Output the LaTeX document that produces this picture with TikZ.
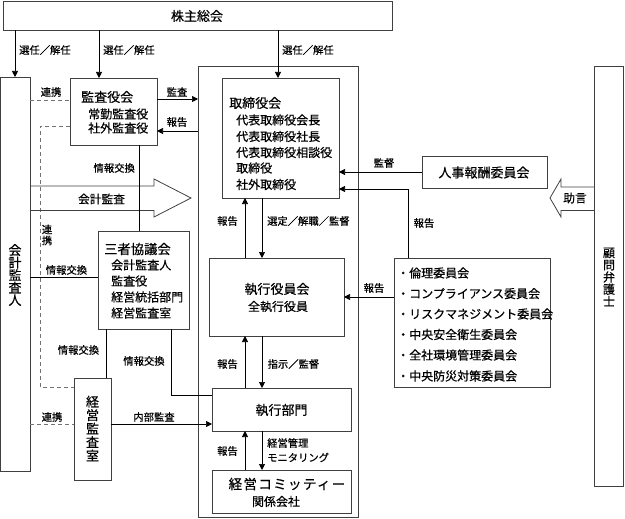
\documentclass[tikz,border=0pt]{standalone}
\usepackage{fontspec}
\setmainfont{Noto Sans CJK JP}[FakeBold=0.5]
\usetikzlibrary{arrows.meta,calc}
\newcommand\mkbox[5]{\node[box, minimum width={#4pt-#2pt}, minimum height={#5pt-#3pt}] (#1) at (#2,#3) {};}
\begin{document}
\begin{tikzpicture}[x=1pt,y=-1pt,
  box/.style={draw=black!75, line width=0.9pt, inner sep=0pt, outer sep=0pt, anchor=north west, fill=none},
  lbl/.style={font=\fontsize{10.3}{12}\selectfont, inner sep=0pt},
  ttl/.style={font=\fontsize{13}{15}\selectfont, inner sep=0pt},
  subt/.style={font=\fontsize{12}{14}\selectfont, inner sep=0pt},
  vert/.style={font=\fontsize{12.5}{12.5}\selectfont, inner sep=0pt, align=center},
  con/.style={draw=black, line width=0.7pt},
  arr/.style={con, -{Triangle[length=6pt,width=6pt]}},
  dsh/.style={draw=black!55, line width=0.8pt, dash pattern=on 4pt off 3pt},
  bigarr/.style={draw=black!75, line width=0.8pt}
]
\useasboundingbox (0,0) rectangle (625,519);

% boxes
\mkbox{soukai}{3}{1}{392}{30}
\mkbox{kaikei}{0.5}{77}{30}{471}
\mkbox{kansa}{70}{78}{157}{145}
\mkbox{outer}{198}{66}{358}{517}
\mkbox{torishimari}{222}{78}{339}{198}
\mkbox{jinji}{422}{156}{547}{188}
\mkbox{sansha}{98}{231}{189}{329}
\mkbox{yakuin}{209}{258}{344}{336}
\mkbox{iinkai}{394}{258}{550}{387}
\mkbox{shikko}{212}{388}{351}{431}
\mkbox{keiei}{74}{378}{111}{480}
\mkbox{committee}{212}{470}{351}{513}
\mkbox{komon}{594}{66}{623}{486}

% box texts
\node[ttl] (t_soukai) at (197,16) {株主総会};
\node[vert, font=\fontsize{13}{12.5}\selectfont] (t_kaikei) at (15,275) {会\\計\\監\\査\\人};
\node[ttl, anchor=west] (t_kansa) at (81,97) {監査役会};
\node[subt, anchor=west] (t_kansa1) at (88,114) {常勤監査役};
\node[subt, anchor=west] (t_kansa2) at (88,128) {社外監査役};
\node[ttl, anchor=west] (t_tori) at (229,103) {取締役会};
\node[subt, anchor=west] (t_tori1) at (236,120) {代表取締役会長};
\node[subt, anchor=west] (t_tori2) at (236,136.5) {代表取締役社長};
\node[subt, anchor=west] (t_tori3) at (236,152.5) {代表取締役相談役};
\node[subt, anchor=west] (t_tori4) at (236,168) {取締役};
\node[subt, anchor=west] (t_tori5) at (236,184.5) {社外取締役};
\node[ttl] (t_jinji) at (484,172.5) {人事報酬委員会};
\node[ttl, anchor=west, font=\fontsize{13.3}{15}\selectfont] (t_sansha) at (104,249) {三者協議会};
\node[subt, anchor=west] (t_sansha1) at (111,265) {会計監査人};
\node[subt, anchor=west] (t_sansha2) at (111,281) {監査役};
\node[subt, anchor=west] (t_sansha3) at (111,297) {経営統括部門};
\node[subt, anchor=west] (t_sansha4) at (111,313) {経営監査室};
\node[ttl] (t_yakuin) at (277,289) {執行役員会};
\node[subt] (t_yakuin1) at (278,306.5) {全執行役員};
\node[ttl] (t_shikko) at (281.5,410) {執行部門};
\node[ttl, font=\fontsize{13.5}{15}\selectfont\addfontfeature{LetterSpace=10}] (t_comm) at (287,484) {経営コミッティー};
\node[subt] (t_comm1) at (276,501.5) {関係会社};
\node[vert, font=\fontsize{13}{13.5}\selectfont] (t_keiei) at (92.5,428.5) {経\\営\\監\\査\\室};
\node[vert, font=\fontsize{12}{12.2}\selectfont] (t_komon) at (609,277) {顧\\問\\弁\\護\\士};
\foreach \t/\y [count=\i] in {倫理委員会/273, コンプライアンス委員会/293.6, リスクマネジメント委員会/314, 中央安全衛生委員会/334.5, 全社環境管理委員会/355, 中央防災対策委員会/376}
  \node[subt, anchor=west] (t_iin\i) at (397,\y) {・\t};

% election arrows
\draw[arr] (15,0 |- soukai.south) -- (15,0 |- kaikei.north);
\draw[arr] (99,0 |- soukai.south) -- (99,0 |- kansa.north);
\draw[arr] (278,0 |- soukai.south) -- (278,0 |- torishimari.north);
\node[lbl, anchor=west] (l_sen1) at (19,50) {選任／解任};
\node[lbl, anchor=west] (l_sen2) at (103,50) {選任／解任};
\node[lbl, anchor=west] (l_sen3) at (282,50) {選任／解任};

% dashed links
\draw[dsh] (kaikei.east |- 0,100) -- (kansa.west |- 0,100);
\node[lbl] (l_renkei1) at (51,92) {連携};
\draw[dsh] (kansa.west |- 0,126) -- (40,126) -- (40,387) -- (keiei.west |- 0,387);
\node[lbl, align=center, font=\fontsize{10.3}{11}\selectfont] (l_renkei2) at (47,235) {連\\携};
\draw[dsh] (kaikei.east |- 0,424) -- (keiei.west |- 0,424);
\node[lbl] (l_renkei3) at (52,417) {連携};

% audit / report
\draw[arr] (kansa.east |- 0,99) -- (outer.west |- 0,99);
\node[lbl] (l_kansa) at (177,92) {監査};
\draw[arr] (outer.west |- 0,131) -- (kansa.east |- 0,131);
\node[lbl] (l_hokoku1) at (177,122) {報告};

% big arrow 会計監査
\draw[bigarr] (kaikei.east |- 0,186) -- (154,186) -- (154,179) -- (191,198) -- (154,217) -- (154,210.5) -- (kaikei.east |- 0,210.5);
\node[font=\fontsize{11.7}{13}\selectfont, inner sep=0pt] (l_kaikeikansa) at (101.5,199) {会計監査};

% information exchange lines
\draw[con] (139,0 |- kansa.south) -- (139,0 |- sansha.north);
\node[lbl, anchor=east] (l_jouhou1) at (135,168) {情報交換};
\draw[con] (kaikei.east |- 0,277) -- (sansha.west |- 0,277);
\node[lbl] (l_jouhou2) at (66.5,270) {情報交換};
\draw[con] (106,0 |- sansha.south) -- (106,0 |- keiei.north);
\node[lbl] (l_jouhou3) at (78.5,350) {情報交換};
\draw[con] (171,0 |- sansha.south) -- (171,395) -- (shikko.west |- 0,395);
\node[lbl] (l_jouhou4) at (144,361) {情報交換};

% internal audit
\draw[arr] (keiei.east |- 0,424) -- (shikko.west |- 0,424);
\node[lbl] (l_naibu) at (154,417) {内部監査};

% vertical pairs
\draw[arr] (245,0 |- yakuin.north) -- (245,0 |- torishimari.south);
\draw[arr] (262,0 |- torishimari.south) -- (262,0 |- yakuin.north);
\node[lbl] (l_h2) at (227.5,221) {報告};
\node[lbl, anchor=west] (l_sentei) at (267,221) {選定／解職／監督};
\draw[arr] (245,0 |- shikko.north) -- (245,0 |- yakuin.south);
\draw[arr] (262,0 |- yakuin.south) -- (262,0 |- shikko.north);
\node[lbl] (l_h3) at (227.5,364) {報告};
\node[lbl, anchor=west] (l_shiji) at (267.5,364) {指示／監督};
\draw[arr] (245,0 |- committee.north) -- (245,0 |- shikko.south);
\draw[arr] (262,0 |- shikko.south) -- (262,0 |- committee.north);
\node[lbl] (l_h4) at (227.5,451) {報告};
\node[lbl, anchor=west] (l_keieikanri) at (267,443) {経営管理};
\node[lbl, anchor=west] (l_monitor) at (267,457.5) {モニタリング};

% right side
\draw[arr] (jinji.west |- 0,172) -- (torishimari.east |- 0,172);
\node[lbl] (l_kantoku) at (384,163) {監督};
\draw[arr] (408,0 |- iinkai.north) -- (408,189) -- (torishimari.east |- 0,189);
\node[lbl] (l_h5) at (424,223) {報告};
\draw[arr] (iinkai.west |- 0,297) -- (yakuin.east |- 0,297);
\node[lbl] (l_h6) at (374,288) {報告};

% big arrow 助言
\draw[bigarr] (komon.west |- 0,187) -- (561,187) -- (561,179) -- (550,198) -- (561,217) -- (561,210.5) -- (komon.west |- 0,210.5);
\node[font=\fontsize{11.7}{13}\selectfont, inner sep=0pt] (l_jogen) at (575,198) {助言};

\end{tikzpicture}
\end{document}
